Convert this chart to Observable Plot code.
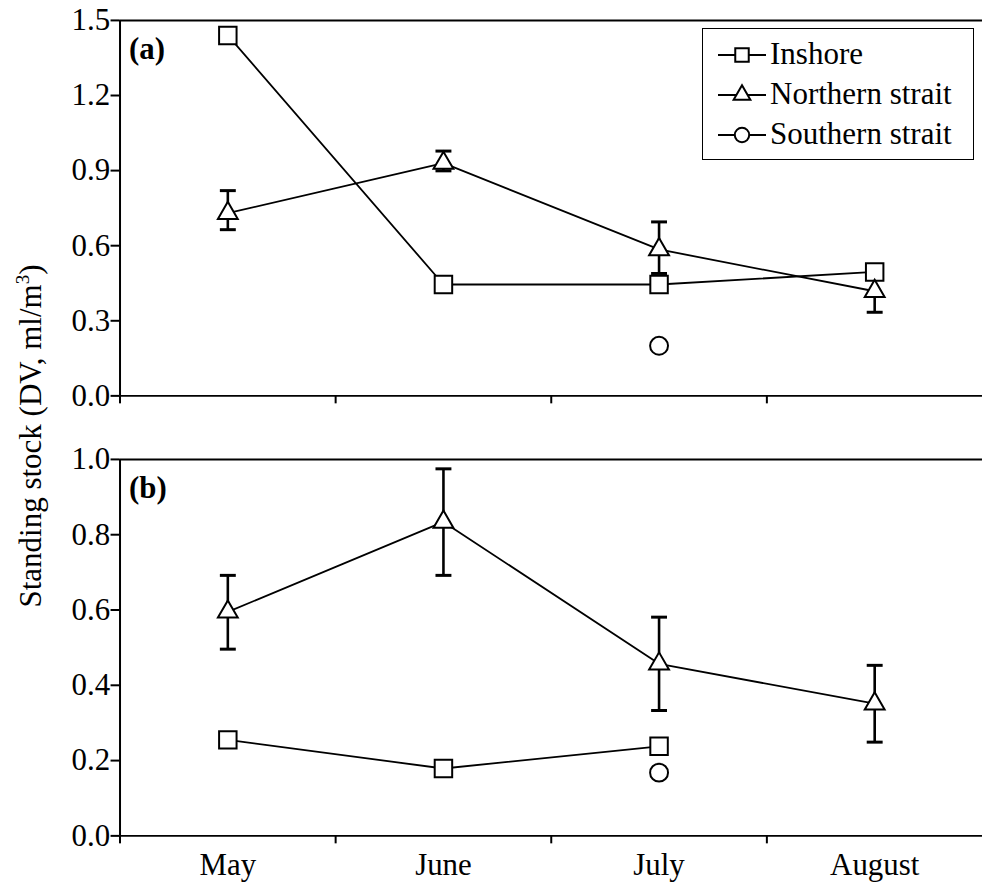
<!DOCTYPE html>
<html>
<head>
<meta charset="utf-8">
<script src="https://cdn.jsdelivr.net/npm/d3@7"></script>
<script src="https://cdn.jsdelivr.net/npm/@observablehq/plot@0.6"></script>
<style>
  body { margin: 0; background: white; }
  #fig { position: relative; width: 982px; height: 888px; overflow: hidden; background: white; font-family: 'Liberation Serif', serif; color: black; }
  .panel { position: absolute; left: 0; }
  #ylabel { position: absolute; left: 30px; top: 436px; transform: translate(-50%, -50%) rotate(-90deg); white-space: nowrap; font-size: 31px; line-height: 1; font-family: 'Liberation Serif', serif; }
  #legend { position: absolute; left: 702px; top: 28px; width: 270px; height: 130px; border: 1.5px solid black; background: white; font-family: 'Liberation Serif', serif; }
  .lrow { position: absolute; left: 0; height: 40px; width: 270px; }
  .lrow svg { position: absolute; left: 0; top: 0; }
  .lrow span { position: absolute; left: 67px; top: 4px; font-size: 31px; line-height: 31px; white-space: nowrap; font-family: 'Liberation Serif', serif; }
</style>
</head>
<body>
<div id="fig">
  <div id="panelA" class="panel" style="top:0px"></div>
  <div id="panelB" class="panel" style="top:440px"></div>
  <div id="ylabel">Standing stock (DV, ml/m<span style="font-size:0.62em;position:relative;top:-0.62em">3</span>)</div>
  <div id="legend"></div>
</div>
<script>
// ---- data ----
const months = ["May", "June", "July", "August"];
const seriesNames = ["Inshore", "Northern strait", "Southern strait"];

// Panel (a)
const inshoreA = [1.44, 0.445, 0.445, 0.495];
const northA   = [0.73, 0.93, 0.585, 0.418];
const northALo = [0.664, 0.899, 0.489, 0.334];
const northAHi = [0.82, 0.978, 0.695, 0.50];
const southA   = [null, null, 0.20, null];
const yTicksA  = [0, 0.3, 0.6, 0.9, 1.2, 1.5];

// Panel (b)
const inshoreB = [0.255, 0.179, 0.238, null];
const northB   = [0.595, 0.834, 0.457, 0.351];
const northBLo = [0.496, 0.692, 0.333, 0.249];
const northBHi = [0.692, 0.975, 0.581, 0.453];
const southB   = [null, null, 0.168, null];
const yTicksB  = [0, 0.2, 0.4, 0.6, 0.8, 1.0];

// ---- helpers ----
const rows = (arr, lo, hi) => months.map((m, i) => ({i, m, v: arr[i], lo: lo ? lo[i] : null, hi: hi ? hi[i] : null})).filter(d => d.v != null);
const capSymbol = { draw(ctx, size) { const w = Math.sqrt(size / Math.PI); ctx.moveTo(-w, 0); ctx.lineTo(w, 0); } };
const xDomain = [-0.5, 3.5];
const boundaryTicks = [-0.5, 0.5, 1.5, 2.5];
const FONT = "'Liberation Serif', serif";

function panel({inshore, north, lo, hi, south, yTicks, label, height, marginTop, marginBottom, showMonths}) {
  const ins = rows(inshore), nor = rows(north, lo, hi), sou = rows(south);
  const yMax = yTicks[yTicks.length - 1];
  const marks = [
    Plot.ruleY([yMax], {stroke: "black", strokeWidth: 2}),
    Plot.ruleY([0], {stroke: "black", strokeWidth: 2}),
    Plot.ruleX([xDomain[0]], {stroke: "black", strokeWidth: 2}),
    Plot.axisY({ticks: yTicks, tickFormat: d3.format(".1f"), tickSize: 9, tickPadding: 1, strokeWidth: 2, label: null, fontSize: 31}),
    Plot.axisX({ticks: boundaryTicks, tickFormat: () => "", tickSize: 8, strokeWidth: 2, label: null}),
    Plot.line(ins, {x: "i", y: "v", stroke: "black", strokeWidth: 1.8}),
    Plot.line(nor, {x: "i", y: "v", stroke: "black", strokeWidth: 1.8}),
    Plot.ruleX(nor, {x: "i", y1: "lo", y2: "hi", stroke: "black", strokeWidth: 2.6}),
    Plot.dot(nor, {x: "i", y: "lo", symbol: capSymbol, r: 8, stroke: "black", fill: "none", strokeWidth: 3}),
    Plot.dot(nor, {x: "i", y: "hi", symbol: capSymbol, r: 8, stroke: "black", fill: "none", strokeWidth: 3}),
    Plot.dot(ins, {x: "i", y: "v", symbol: "square", r: 9.9, stroke: "black", fill: "white", strokeWidth: 2}),
    Plot.dot(nor, {x: "i", y: "v", symbol: "triangle", r: 7.4, stroke: "black", fill: "white", strokeWidth: 2}),
    Plot.dot(sou, {x: "i", y: "v", symbol: "circle", r: 9, stroke: "black", fill: "white", strokeWidth: 2}),
    Plot.text([label], {frameAnchor: "top-left", dx: 9, dy: 17, text: d => d, fontWeight: "bold", fontSize: 31, textAnchor: "start", lineAnchor: "top"})
  ];
  if (showMonths) {
    marks.push(Plot.axisX({ticks: [0, 1, 2, 3], tickFormat: i => months[i], tickSize: 0, tickPadding: 17, label: null, fontSize: 31}));
  }
  return Plot.plot({
    width: 986, height, marginLeft: 120, marginRight: 0, marginTop, marginBottom,
    x: {type: "linear", domain: xDomain},
    y: {domain: [0, yMax]},
    style: {fontFamily: FONT, fontSize: "31px", color: "black", background: "white", overflow: "visible"},
    marks
  });
}

document.getElementById("panelA").appendChild(panel({
  inshore: inshoreA, north: northA, lo: northALo, hi: northAHi, south: southA,
  yTicks: yTicksA, label: "(a)", height: 440, marginTop: 20, marginBottom: 43, showMonths: false
}));
document.getElementById("panelB").appendChild(panel({
  inshore: inshoreB, north: northB, lo: northBLo, hi: northBHi, south: southB,
  yTicks: yTicksB, label: "(b)", height: 448, marginTop: 19, marginBottom: 51, showMonths: true
}));

// ---- legend ----
const legendSymbols = [d3.symbolSquare, d3.symbolTriangle, d3.symbolCircle];
const legendR = [7.6, 6.2, 7.2];
const legend = document.getElementById("legend");
seriesNames.forEach((name, k) => {
  const row = document.createElement("div");
  row.className = "lrow";
  row.style.top = (k * 40 + 5) + "px";
  const svg = d3.create("svg").attr("width", 66).attr("height", 40);
  svg.append("line").attr("x1", 15).attr("x2", 63).attr("y1", 21).attr("y2", 21).attr("stroke", "black").attr("stroke-width", 2);
  svg.append("path").attr("transform", "translate(39,21)")
    .attr("d", d3.symbol(legendSymbols[k], Math.PI * legendR[k] ** 2)())
    .attr("fill", "white").attr("stroke", "black").attr("stroke-width", 2);
  row.appendChild(svg.node());
  const span = document.createElement("span");
  span.textContent = name;
  row.appendChild(span);
  legend.appendChild(row);
});
</script>
</body>
</html>
